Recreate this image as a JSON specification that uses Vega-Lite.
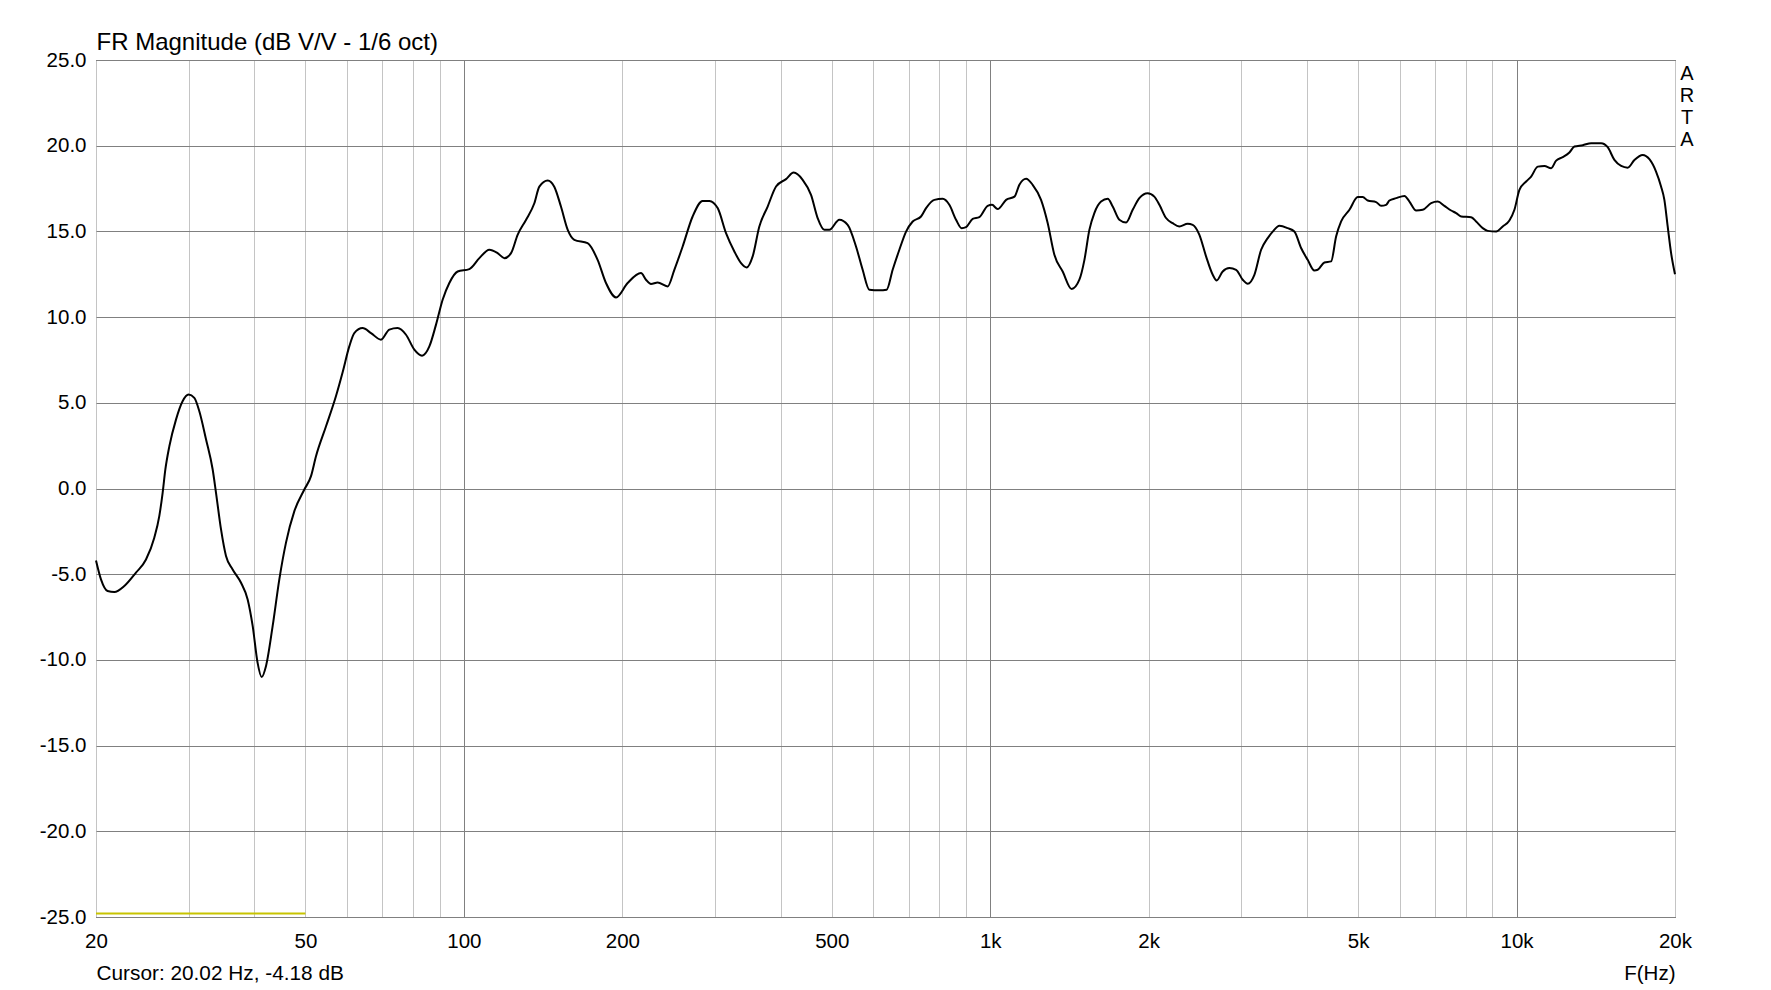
{
  "$schema": "https://vega.github.io/schema/vega-lite/v6.json",
  "width": 1579,
  "height": 857,
  "autosize": {"type": "none"},
  "padding": {"left": 96, "top": 60, "right": 96, "bottom": 73},
  "background": "white",
  "config": {
    "view": {"stroke": "black", "strokeWidth": 1},
    "font": "Liberation Sans"
  },
  "layer": [
    {
      "data": {"values": [
        {"f": 20, "db": -4.2}, {"f": 20.44, "db": -5.3}, {"f": 21.04, "db": -5.98}, {"f": 21.67, "db": -6.04},
        {"f": 22.64, "db": -5.69}, {"f": 23.82, "db": -4.91}, {"f": 24.89, "db": -4.14}, {"f": 25.81, "db": -2.87},
        {"f": 26.38, "db": -1.61}, {"f": 26.77, "db": -0.25}, {"f": 27.09, "db": 1.11}, {"f": 27.57, "db": 2.47},
        {"f": 28.38, "db": 4.02}, {"f": 29.21, "db": 5.09}, {"f": 29.99, "db": 5.48}, {"f": 30.75, "db": 5.29},
        {"f": 31.43, "db": 4.51}, {"f": 32.37, "db": 2.86}, {"f": 33.32, "db": 1.11}, {"f": 33.81, "db": -0.25},
        {"f": 34.56, "db": -2.39}, {"f": 35.32, "db": -3.94}, {"f": 36.36, "db": -4.72}, {"f": 37.72, "db": -5.5},
        {"f": 38.83, "db": -6.47}, {"f": 39.69, "db": -8.02}, {"f": 40.55, "db": -10.16}, {"f": 41.28, "db": -11.0},
        {"f": 42.08, "db": -10.35}, {"f": 43.32, "db": -8.02}, {"f": 44.6, "db": -5.3}, {"f": 45.92, "db": -3.16},
        {"f": 47.63, "db": -1.32}, {"f": 49.76, "db": -0.06}, {"f": 51.23, "db": 0.72}, {"f": 52.36, "db": 1.88},
        {"f": 54.71, "db": 3.63}, {"f": 57.15, "db": 5.4}, {"f": 58.85, "db": 6.8}, {"f": 60.57, "db": 8.29},
        {"f": 61.91, "db": 9.07}, {"f": 64.2, "db": 9.36}, {"f": 66.6, "db": 9.07}, {"f": 69.58, "db": 8.68},
        {"f": 72.16, "db": 9.27}, {"f": 74.83, "db": 9.36}, {"f": 77.63, "db": 8.97}, {"f": 80.51, "db": 8.1},
        {"f": 83.27, "db": 7.75}, {"f": 85.98, "db": 8.29}, {"f": 88.52, "db": 9.56}, {"f": 91.12, "db": 11.01},
        {"f": 93.83, "db": 11.99}, {"f": 97.31, "db": 12.66}, {"f": 102.4, "db": 12.8}, {"f": 107.0, "db": 13.44},
        {"f": 111.8, "db": 13.93}, {"f": 115.9, "db": 13.73}, {"f": 119.4, "db": 13.44}, {"f": 122.9, "db": 13.73},
        {"f": 126.5, "db": 14.8}, {"f": 131.2, "db": 15.67}, {"f": 136.1, "db": 16.64}, {"f": 139.1, "db": 17.61},
        {"f": 144.3, "db": 17.97}, {"f": 148.5, "db": 17.61}, {"f": 152.9, "db": 16.45}, {"f": 157.5, "db": 15.09},
        {"f": 162.1, "db": 14.51}, {"f": 171.8, "db": 14.31}, {"f": 179.5, "db": 13.34}, {"f": 186.2, "db": 11.99},
        {"f": 194.6, "db": 11.15}, {"f": 204.7, "db": 11.99}, {"f": 217.0, "db": 12.57}, {"f": 221.8, "db": 12.18},
        {"f": 226.7, "db": 11.93}, {"f": 233.4, "db": 12.02}, {"f": 243.8, "db": 11.79}, {"f": 251.1, "db": 12.76},
        {"f": 260.4, "db": 14.12}, {"f": 272.0, "db": 15.87}, {"f": 284.2, "db": 16.78}, {"f": 292.7, "db": 16.78},
        {"f": 303.5, "db": 16.36}, {"f": 314.8, "db": 14.9}, {"f": 326.5, "db": 13.83}, {"f": 336.2, "db": 13.15},
        {"f": 344.6, "db": 12.9}, {"f": 353.7, "db": 13.54}, {"f": 364.2, "db": 15.29}, {"f": 377.7, "db": 16.45},
        {"f": 391.8, "db": 17.62}, {"f": 409.3, "db": 18.05}, {"f": 423.2, "db": 18.43}, {"f": 440.2, "db": 18.01},
        {"f": 456.6, "db": 17.13}, {"f": 470.0, "db": 15.78}, {"f": 484.0, "db": 15.09}, {"f": 494.7, "db": 15.09},
        {"f": 516.8, "db": 15.68}, {"f": 536.0, "db": 15.38}, {"f": 555.9, "db": 14.12}, {"f": 572.3, "db": 12.76},
        {"f": 589.3, "db": 11.6}, {"f": 615.7, "db": 11.56}, {"f": 635.7, "db": 11.6}, {"f": 652.6, "db": 12.76},
        {"f": 672.0, "db": 13.93}, {"f": 692.0, "db": 14.99}, {"f": 712.3, "db": 15.58}, {"f": 738.8, "db": 15.87},
        {"f": 755.3, "db": 16.36}, {"f": 783.2, "db": 16.84}, {"f": 812.2, "db": 16.9}, {"f": 836.2, "db": 16.55},
        {"f": 861.1, "db": 15.68}, {"f": 882.5, "db": 15.19}, {"f": 899.6, "db": 15.25}, {"f": 926.1, "db": 15.73},
        {"f": 953.5, "db": 15.83}, {"f": 988.9, "db": 16.49}, {"f": 1008, "db": 16.55}, {"f": 1033, "db": 16.3},
        {"f": 1072, "db": 16.84}, {"f": 1112, "db": 17.03}, {"f": 1136, "db": 17.72}, {"f": 1170, "db": 18.07},
        {"f": 1204, "db": 17.72}, {"f": 1249, "db": 16.84}, {"f": 1286, "db": 15.48}, {"f": 1324, "db": 13.64},
        {"f": 1373, "db": 12.66}, {"f": 1428, "db": 11.64}, {"f": 1477, "db": 12.18}, {"f": 1510, "db": 13.34},
        {"f": 1543, "db": 15.09}, {"f": 1577, "db": 16.07}, {"f": 1624, "db": 16.74}, {"f": 1672, "db": 16.9},
        {"f": 1709, "db": 16.45}, {"f": 1759, "db": 15.68}, {"f": 1812, "db": 15.52}, {"f": 1865, "db": 16.26},
        {"f": 1920, "db": 16.94}, {"f": 1991, "db": 17.23}, {"f": 2050, "db": 17.03}, {"f": 2096, "db": 16.55},
        {"f": 2158, "db": 15.78}, {"f": 2221, "db": 15.48}, {"f": 2287, "db": 15.29}, {"f": 2372, "db": 15.44},
        {"f": 2425, "db": 15.38}, {"f": 2497, "db": 14.8}, {"f": 2571, "db": 13.54}, {"f": 2647, "db": 12.47},
        {"f": 2693, "db": 12.14}, {"f": 2765, "db": 12.66}, {"f": 2847, "db": 12.86}, {"f": 2932, "db": 12.76},
        {"f": 3018, "db": 12.18}, {"f": 3085, "db": 11.95}, {"f": 3176, "db": 12.47}, {"f": 3271, "db": 13.93},
        {"f": 3367, "db": 14.61}, {"f": 3441, "db": 14.99}, {"f": 3544, "db": 15.33}, {"f": 3674, "db": 15.19},
        {"f": 3783, "db": 14.99}, {"f": 3896, "db": 14.03}, {"f": 4010, "db": 13.34}, {"f": 4129, "db": 12.72},
        {"f": 4190, "db": 12.76}, {"f": 4314, "db": 13.19}, {"f": 4443, "db": 13.25}, {"f": 4541, "db": 14.7},
        {"f": 4642, "db": 15.58}, {"f": 4814, "db": 16.26}, {"f": 4992, "db": 17.0}, {"f": 5102, "db": 17.0},
        {"f": 5215, "db": 16.8}, {"f": 5410, "db": 16.71}, {"f": 5529, "db": 16.49}, {"f": 5652, "db": 16.55},
        {"f": 5734, "db": 16.8}, {"f": 5905, "db": 16.94}, {"f": 6123, "db": 17.07}, {"f": 6259, "db": 16.74},
        {"f": 6445, "db": 16.22}, {"f": 6633, "db": 16.26}, {"f": 6882, "db": 16.65}, {"f": 7084, "db": 16.74},
        {"f": 7293, "db": 16.49}, {"f": 7511, "db": 16.22}, {"f": 7677, "db": 16.07}, {"f": 7847, "db": 15.87},
        {"f": 8198, "db": 15.83}, {"f": 8379, "db": 15.58}, {"f": 8624, "db": 15.19}, {"f": 8815, "db": 15.03},
        {"f": 9146, "db": 14.99}, {"f": 9413, "db": 15.29}, {"f": 9692, "db": 15.64}, {"f": 9907, "db": 16.26},
        {"f": 10126, "db": 17.42}, {"f": 10429, "db": 17.91}, {"f": 10659, "db": 18.2}, {"f": 10971, "db": 18.78},
        {"f": 11296, "db": 18.82}, {"f": 11634, "db": 18.69}, {"f": 11891, "db": 19.13}, {"f": 12238, "db": 19.33},
        {"f": 12601, "db": 19.6}, {"f": 12879, "db": 19.95}, {"f": 13356, "db": 20.03}, {"f": 13858, "db": 20.15},
        {"f": 14477, "db": 20.15}, {"f": 14900, "db": 19.91}, {"f": 15342, "db": 19.17}, {"f": 15802, "db": 18.82},
        {"f": 16264, "db": 18.72}, {"f": 16746, "db": 19.17}, {"f": 17366, "db": 19.46}, {"f": 17882, "db": 19.21},
        {"f": 18408, "db": 18.49}, {"f": 18816, "db": 17.62}, {"f": 19092, "db": 16.84}, {"f": 19370, "db": 15.29},
        {"f": 19662, "db": 13.73}, {"f": 20000, "db": 12.5}
      ]},
      "mark": {"type": "line", "color": "black", "strokeWidth": 2, "interpolate": "monotone"},
      "encoding": {
        "x": {
          "field": "f", "type": "quantitative",
          "scale": {"type": "log", "domain": [20, 20000], "nice": false},
          "axis": {
            "orient": "bottom",
            "values": [20, 30, 40, 50, 60, 70, 80, 90, 100, 200, 300, 400, 500, 600, 700, 800, 900, 1000, 2000, 3000, 4000, 5000, 6000, 7000, 8000, 9000, 10000, 20000],
            "labelExpr": "indexof([20, 50, 100, 200, 500, 1000, 2000, 5000, 10000, 20000], datum.value) >= 0 ? (datum.value >= 1000 ? (datum.value / 1000) + 'k' : '' + datum.value) : ''",
            "labelFont": "Liberation Sans", "labelFontSize": 20.5, "labelColor": "black",
            "labelPadding": 14, "labelFlush": false, "labelOverlap": false, "labelBound": false,
            "labelBaseline": "top", "labelAlign": "center",
            "ticks": false, "domain": false, "grid": true, "gridWidth": 1,
            "gridColor": {"condition": {"test": "datum.value == 100 || datum.value == 1000 || datum.value == 10000", "value": "#808080"}, "value": "#c4c4c4"},
            "title": "F(Hz)", "titleFont": "Liberation Sans", "titleFontSize": 20.5, "titleFontWeight": "normal",
            "titleColor": "black", "titleAlign": "right", "titleBaseline": "alphabetic", "titleAngle": 0,
            "titleX": 1579, "titleY": 62
          }
        },
        "y": {
          "field": "db", "type": "quantitative",
          "scale": {"domain": [-25, 25], "nice": false, "zero": false},
          "axis": {
            "orient": "left",
            "values": [-25, -20, -15, -10, -5, 0, 5, 10, 15, 20, 25],
            "labelExpr": "(datum.value < 0 ? '-' : '') + format(abs(datum.value), '.1f')",
            "labelFont": "Liberation Sans", "labelFontSize": 20.5, "labelColor": "black",
            "labelPadding": 10, "labelFlush": false, "labelOverlap": false, "labelBound": false,
            "labelBaseline": "middle", "labelAlign": "right",
            "ticks": false, "domain": false, "grid": true, "gridWidth": 1, "gridColor": "#808080",
            "title": "FR Magnitude (dB V/V - 1/6 oct)", "titleFont": "Liberation Sans", "titleFontSize": 24,
            "titleFontWeight": "normal", "titleColor": "black", "titleAngle": 0, "titleAlign": "left",
            "titleBaseline": "alphabetic", "titleX": 0, "titleY": -11
          }
        }
      }
    },
    {
      "data": {"values": [{"f": 20, "f2": 50, "db": -24.8}]},
      "mark": {"type": "rule", "color": "#c8c400", "strokeWidth": 2},
      "encoding": {
        "x": {
          "field": "f", "type": "quantitative",
          "scale": {"type": "log", "domain": [20, 20000], "nice": false},
          "axis": {
            "orient": "bottom", "labels": false, "ticks": false, "domain": false, "grid": false,
            "title": "Cursor: 20.02 Hz, -4.18 dB", "titleFont": "Liberation Sans", "titleFontSize": 20.8,
            "titleFontWeight": "normal", "titleColor": "black", "titleAlign": "left", "titleBaseline": "alphabetic",
            "titleAngle": 0, "titleX": 0, "titleY": 62
          }
        },
        "x2": {"field": "f2"},
        "y": {
          "field": "db", "type": "quantitative",
          "scale": {"domain": [-25, 25], "nice": false, "zero": false},
          "axis": {
            "orient": "right", "labels": false, "ticks": false, "domain": false, "grid": false,
            "title": ["A", "R", "T", "A"], "titleFont": "Liberation Sans", "titleFontSize": 20,
            "titleFontWeight": "normal", "titleColor": "black", "titleAngle": 0, "titleAlign": "center",
            "titleBaseline": "alphabetic", "titleLineHeight": 22, "titleX": 11.5, "titleY": 19
          }
        }
      }
    }
  ],
  "resolve": {"axis": {"x": "independent", "y": "independent"}}
}
